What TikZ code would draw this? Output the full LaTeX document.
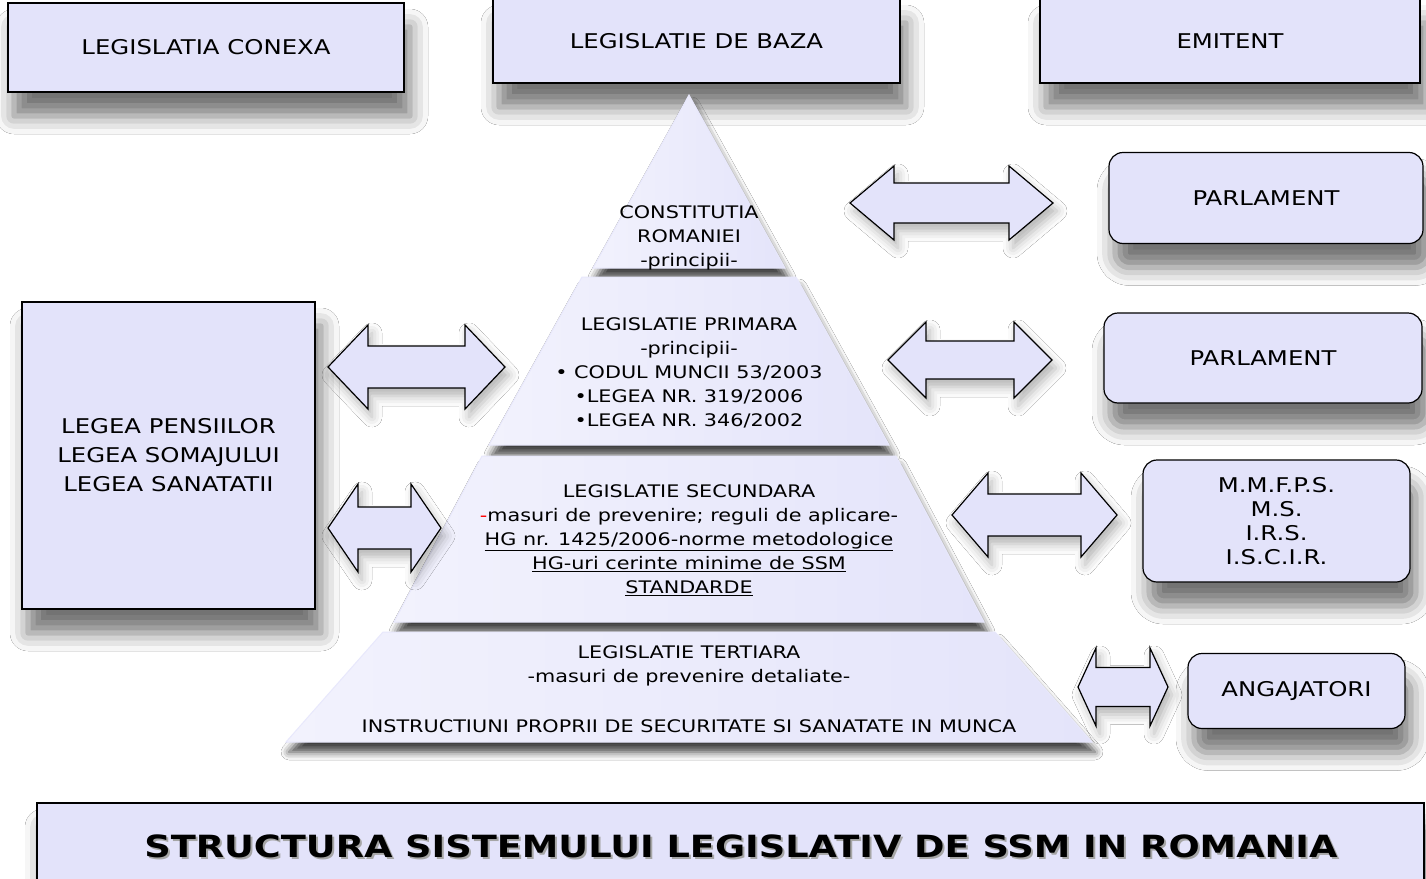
\documentclass[tikz,border=0pt]{standalone}
\usepackage{fontspec}
\setmainfont{DejaVu Sans}[FakeStretch=1.2]
\usetikzlibrary{shadows.blur}
\definecolor{boxfill}{RGB}{227,227,250}
\definecolor{pyrL}{RGB}{242,242,253}
\definecolor{pyrR}{RGB}{228,228,250}
\definecolor{pyredge}{RGB}{232,232,252}
\newcommand\dblarr[7]{%
  \path[arr] (#2,#4) -- (#2+#5,#4-#6) -- (#2+#5,#4-#7) -- (#3-#5,#4-#7) -- (#3-#5,#4-#6) -- (#3,#4)
   -- (#3-#5,#4+#6) -- (#3-#5,#4+#7) -- (#2+#5,#4+#7) -- (#2+#5,#4+#6) -- cycle;
  \coordinate (#1) at ({(#2+#3)/2},#4);}
\begin{document}
\begin{tikzpicture}[x=1pt,y=-1pt,
  shd/.style={blur shadow={shadow xshift=6pt,shadow yshift=-24pt,shadow blur radius=18pt,shadow opacity=55}},
  pshd/.style={blur shadow={shadow xshift=3pt,shadow yshift=-10pt,shadow blur radius=8pt,shadow opacity=75}},
  ashd/.style={blur shadow={shadow xshift=4pt,shadow yshift=-8pt,shadow blur radius=10pt,shadow opacity=30}},
  box/.style={draw=black,line width=1.2pt,fill=boxfill,shd,align=center,inner sep=0pt,
     font=\fontsize{20.3}{24}\selectfont},
  rbox/.style={box,rounded corners=14pt},
  layer/.style={draw=pyredge,line width=1pt,left color=pyrL,right color=pyrR,pshd},
  ptxt/.style={align=center,font=\fontsize{17.3}{24}\selectfont,inner sep=0pt},
  arr/.style={draw=black,line width=1.2pt,fill=boxfill,ashd},
  ttl/.style={font=\fontsize{30.6}{34}\bfseries\selectfont}]
\useasboundingbox (0,0) rectangle (1426,878);
\fill[white] (0,0) rectangle (1426,878);

% top headers
\node[box,minimum width=396pt,minimum height=89pt] (conexa) at (206,47.5) {LEGISLATIA CONEXA};
\node[box,minimum width=407pt,minimum height=84pt] (baza) at (696.5,41) {LEGISLATIE DE BAZA};
\node[box,minimum width=380pt,minimum height=84pt] (emitent) at (1230,41) {EMITENT};

% left box
\node[box,minimum width=293pt,minimum height=307pt,font=\fontsize{20.3}{29}\selectfont] (conexe) at (168.5,455.5)
  {LEGEA PENSIILOR\\LEGEA SOMAJULUI\\LEGEA SANATATII};

% pyramid layers
\path[layer] (689,95) -- (785,268) -- (593,268) -- cycle;
\path[layer] (582,277) -- (796,277) -- (889,445) -- (489,445) -- cycle;
\path[layer] (482,456) -- (896,456) -- (984,622) -- (394,622) -- cycle;
\path[layer] (383,632) -- (995,632) -- (1092,742) -- (286,742) -- cycle;

\node[ptxt] (constitutia) at (689,238) {CONSTITUTIA\\ROMANIEI\\-principii-};
\node[ptxt] (primara) at (689,373) {LEGISLATIE PRIMARA\\-principii-\\• CODUL MUNCII 53/2003\\•LEGEA NR. 319/2006\\•LEGEA NR. 346/2002};
\node[ptxt] (secundara) at (689,540) {LEGISLATIE SECUNDARA\\\textcolor{red}{-}masuri de prevenire; reguli de aplicare-\\\underline{HG nr. 1425/2006-norme metodologice}\\\underline{HG-uri cerinte minime de SSM}\\\underline{STANDARDE}};
\node[ptxt] (tertiara) at (689,689) {LEGISLATIE TERTIARA\\-masuri de prevenire detaliate-\\[26pt]INSTRUCTIUNI PROPRII DE SECURITATE SI SANATATE IN MUNCA};

% right emitters
\node[rbox,minimum width=314pt,minimum height=91pt] (parl1) at (1266,198) {PARLAMENT};
\node[rbox,minimum width=318pt,minimum height=90pt] (parl2) at (1263,358) {PARLAMENT};
\node[rbox,minimum width=267pt,minimum height=122pt,font=\fontsize{20.3}{24}\selectfont] (min) at (1276.5,521) {M.M.F.P.S.\\M.S.\\I.R.S.\\I.S.C.I.R.};
\node[rbox,minimum width=217pt,minimum height=75pt] (angaj) at (1296.5,691) {ANGAJATORI};

% arrows
\dblarr{a1}{850}{1053}{203}{44}{37}{20}
\dblarr{a2}{888}{1052}{360}{38}{38}{19}
\dblarr{a3}{952}{1117}{515}{36}{42}{21}
\dblarr{a4}{1078}{1168}{687}{18}{39}{19.5}
\dblarr{a5}{328}{505}{367}{40}{42}{21}
\dblarr{a6}{328}{441}{528}{30}{44}{21}

% title
\path[draw=black,line width=1.2pt,fill=boxfill,shd] (37,803) rectangle (1424,890);
\node[ttl,text=gray!70] at (743,848) {STRUCTURA SISTEMULUI LEGISLATIV DE SSM IN ROMANIA};
\node[ttl] (title) at (741,846) {STRUCTURA SISTEMULUI LEGISLATIV DE SSM IN ROMANIA};
\end{tikzpicture}
\end{document}
